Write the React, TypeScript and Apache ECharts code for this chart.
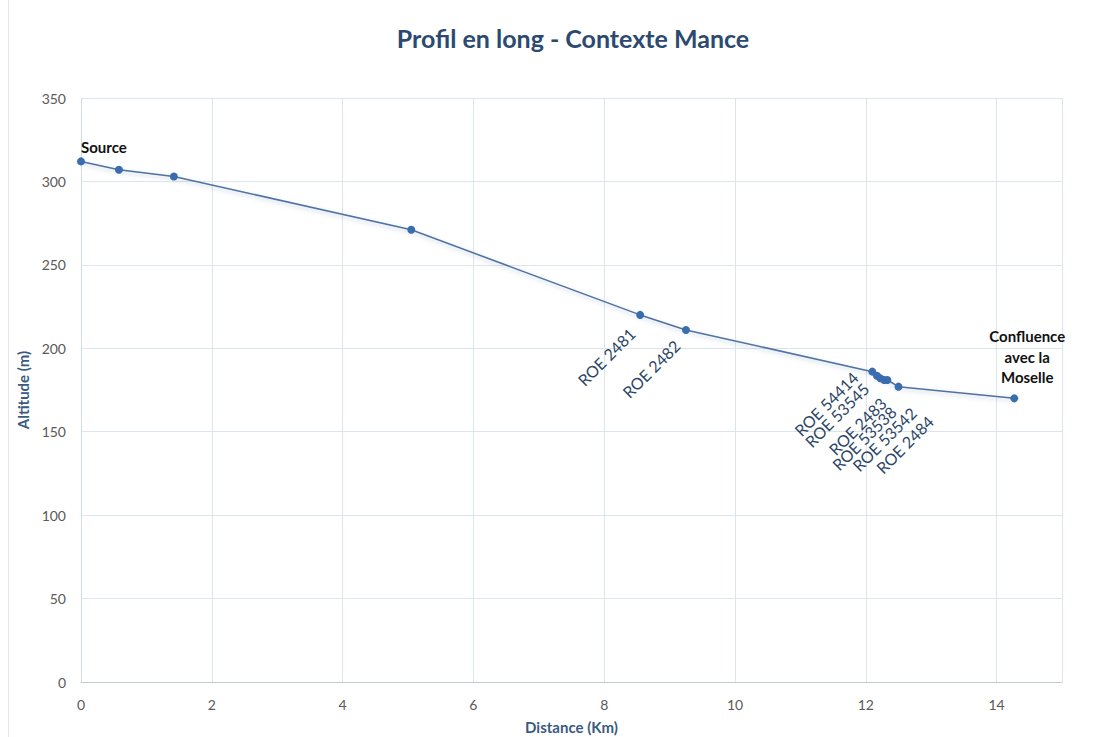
import React, { useEffect, useRef } from "react";
import * as echarts from "echarts";

const distances = [0, 0.58, 1.42, 5.05, 8.55, 9.25, 12.1, 12.17, 12.22, 12.28, 12.33, 12.5, 14.27];
const altitudes = [312, 307, 303, 271, 220, 211, 186, 183.5, 182, 181, 181, 177, 170];
const pointLabels = ["Source", "", "", "", "ROE 2481", "ROE 2482", "ROE 54414", "ROE 53545", "ROE 2483", "ROE 53538", "ROE 53542", "ROE 2484", "Confluence\navec la\nMoselle"];

// label anchor offsets (styling) relative to the marker centre
const roeOffsets: Record<string, [number, number]> = {
  "ROE 2481": [-8, 16],
  "ROE 2482": [-9, 13],
  "ROE 54414": [-17, 3],
  "ROE 53545": [-11, 10],
  "ROE 2483": [3, 22],
  "ROE 53538": [9, 29],
  "ROE 53542": [26, 30],
  "ROE 2484": [32, 32],
};

export default function App() {
  const ref = useRef<HTMLDivElement>(null);
  useEffect(() => {
    document.body.style.margin = "0";
    const chart = echarts.init(ref.current!, undefined, { renderer: "svg" });
    const data = distances.map((d, i) => {
      const name = pointLabels[i];
      const item: any = { value: [d, altitudes[i]] };
      if (name === "Source") {
        item.label = {
          show: true, formatter: name, position: [4, -10], align: "left", verticalAlign: "middle",
          fontWeight: "bold", color: "#111", fontSize: 15, fontFamily: "Lato",
        };
      } else if (name.startsWith("Confluence")) {
        item.label = {
          show: true, formatter: name, position: [4 + 13, -7], align: "center", verticalAlign: "bottom",
          fontWeight: "bold", color: "#111", fontSize: 15, fontFamily: "Lato", lineHeight: 20.5,
        };
      } else if (name) {
        const o = roeOffsets[name];
        item.label = {
          show: true, formatter: name, position: [o[0] + 4, o[1] + 4],
          rotate: 45, align: "right", verticalAlign: "middle",
          color: "#2b4566", fontSize: 16, fontFamily: "Lato",
        };
      }
      return item;
    });
    chart.setOption({
      animation: false,
      backgroundColor: "#ffffff",
      title: {
        text: "Profil en long - Contexte Mance",
        left: 568, top: 20, textAlign: "center",
        textStyle: { color: "#2c4a70", fontSize: 25, fontWeight: "bold", fontFamily: "Lato" },
      },
      graphic: [
        { type: "line", shape: { x1: 8.5, y1: 0, x2: 8.5, y2: 737 }, style: { stroke: "#e3e6ea", lineWidth: 1 } },
      ],
      grid: { left: 81, right: 56, top: 98, bottom: 55, outerBoundsMode: "none", containLabel: false },
      xAxis: {
        type: "value", min: 0, max: 15, interval: 2,
        name: "Distance (Km)", nameLocation: "middle", nameGap: 37,
        nameTextStyle: { color: "#3a5a80", fontWeight: "bold", fontSize: 15, fontFamily: "Lato" },
        axisLine: { show: true, lineStyle: { color: "#c3ccd6", width: 1 } },
        axisTick: { show: false },
        axisLabel: {
          color: "#595959", fontSize: 14, fontFamily: "Lato", margin: 15,
          formatter: (v: number) => (v === 15 ? "" : String(v)),
        },
        splitLine: { show: true, lineStyle: { color: "#dde5ec", width: 1 } },
      },
      yAxis: {
        type: "value", min: 0, max: 350, interval: 50,
        name: "Altitude (m)", nameLocation: "middle", nameGap: 48,
        nameTextStyle: { color: "#3a5a80", fontWeight: "bold", fontSize: 15, fontFamily: "Lato" },
        axisLine: { show: true, lineStyle: { color: "#d3dbe3", width: 1 } },
        axisTick: { show: false },
        axisLabel: { color: "#595959", fontSize: 14, fontFamily: "Lato", margin: 15 },
        splitLine: { show: true, lineStyle: { color: "#dde5ec", width: 1 } },
      },
      series: [
        {
          type: "line",
          data,
          symbol: "circle",
          symbolSize: 8,
          itemStyle: { color: "#3a6cb0" },
          lineStyle: { color: "#4f72a3", width: 1.5, shadowBlur: 4, shadowColor: "rgba(79,114,163,0.35)", shadowOffsetY: 2 },
          labelLayout: { hideOverlap: false },
          z: 3,
        },
      ],
    });
    return () => chart.dispose();
  }, []);
  return <div ref={ref} style={{ width: 1118, height: 737 }} />;
}
